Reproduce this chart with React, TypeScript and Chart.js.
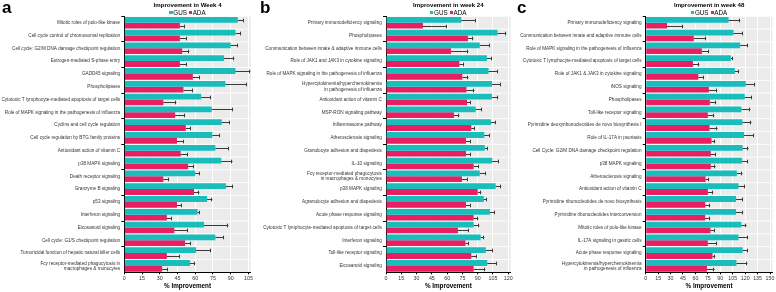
import React, { useEffect, useRef } from "react";
import { Chart, registerables } from "chart.js";
Chart.register(...registerables);

const FONT = "'Liberation Sans', Arial, Helvetica, sans-serif";
const TEAL = "#19BEBB";
const PINK = "#EA1E63";
const BAND = "#EBEBEB";

// ---------- Panel a: Week 4 ----------
const labelsA: (string | string[])[] = [
  "Mitotic roles of polo-like kinase",
  "Cell cycle control of chromosomal replication",
  "Cell cycle: G2/M DNA damage checkpoint regulation",
  "Estrogen-mediated S-phase entry",
  "GADD45 signaling",
  "Phospholipases",
  "Cytotoxic T lymphocyte-mediated apoptosis of target cells",
  "Role of MAPK signaling in the pathogenesis of influenza",
  "Cyclins and cell cycle regulation",
  "Cell cycle regulation by BTG family proteins",
  "Antioxidant action of vitamin C",
  "p38 MAPK signaling",
  "Death receptor signaling",
  "Granzyme B signaling",
  "p53 signaling",
  "Interferon signaling",
  "Eicosanoid signaling",
  "Cell cycle: G1/S checkpoint regulation",
  "Tumoricidal function of hepatic natural killer cells",
  ["Fcγ receptor-mediated phagocytosis in", "macrophages & monocytes"],
];
const gusA = [96, 94, 90, 84.4, 94, 85.5, 65, 74, 82.4, 74.5, 77, 82, 60, 86, 70, 62, 67.5, 77, 60.7, 55.6];
const gusErrA = [5, 4.5, 6, 8.6, 12.7, 18, 8.4, 18, 6.6, 6.5, 11.6, 9.5, 4, 6, 4.5, 2, 20.5, 7.4, 12.3, 4.4];
const adaA = [47, 47, 49, 47, 58, 50, 33, 43, 52, 44.6, 47.7, 54, 33, 59, 44.6, 36, 42.3, 51.4, 36, 32];
const adaErrA = [4, 6, 6, 6, 6, 8, 11, 8, 4, 6, 6.3, 5, 4.5, 4.5, 4, 4, 11.3, 5.1, 11, 5];
const xMaxA = 107;

// ---------- Panel b: Week 24 ----------
const labelsB: (string | string[])[] = [
  "Primary immunodeficiency signaling",
  "Phospholipases",
  "Communication between innate & adaptive immune cells",
  "Role of JAK1 and JAK3 in cytokine signaling",
  "Role of MAPK signaling in the pathogenesis of influenza",
  ["Hypercytokinemia/hyperchemokinemia", "in pathogenesis of influenza"],
  "Antioxidant action of vitamin C",
  "MSP-RON signaling pathway",
  "Inflammasome pathway",
  "Atherosclerosis signaling",
  "Granulocyte adhesion and diapedesis",
  "IL-10 signaling",
  ["Fcγ receptor-mediated phagocytosis", "in macrophages & monocytes"],
  "p38 MAPK signaling",
  "Agranulocyte adhesion and diapedesis",
  "Acute phase response signaling",
  "Cytotoxic T lymphocyte-mediated apoptosis of target cells",
  "Interferon signaling",
  "Toll-like receptor signaling",
  "Eicosanoid signaling",
];
const gusB = [74, 109.5, 92, 99, 100.7, 104, 104, 88, 103, 96.5, 97, 104.3, 92, 107.6, 96, 102, 86, 92.9, 98, 99.4];
const gusErrB = [14, 8.5, 10, 4.7, 9.3, 8.5, 6, 6, 5, 5.2, 3, 6.2, 5.8, 5.4, 3, 5, 5.6, 3.6, 6.6, 9.2];
const adaB = [36.3, 80.4, 63.8, 72, 75, 79, 79.5, 66.7, 83.7, 78.5, 78.5, 86, 74.6, 90, 78.5, 86, 70.6, 78, 83.7, 86];
const adaErrB = [23.2, 5.3, 17, 4.5, 5.8, 7.7, 3.5, 5.3, 3.6, 4.5, 4.5, 5, 5.8, 3.5, 4.5, 4.6, 10.4, 3, 5.3, 11.5];
const xMaxB = 122.4;

// ---------- Panel c: Week 48 ----------
const labelsC: (string | string[])[] = [
  "Primary immunodeficiency signaling",
  "Communication between innate and adaptive immune cells",
  "Role of MAPK signaling in the pathogenesis of influenza",
  "Cytotoxic T lymphocyte-mediated apoptosis of target cells",
  "Role of JAK1 & JAK3 in cytokine signaling",
  "iNOS signaling",
  "Phospholipases",
  "Toll-like receptor signaling",
  "Pyrimidine deoxyribonucleotides de novo biosynthesis I",
  "Role of IL-17A in psoriasis",
  "Cell Cycle: G2/M DNA damage checkpoint regulation",
  "p38 MAPK signaling",
  "Atherosclerosis signaling",
  "Antioxidant action of vitamin C",
  "Pyrimidine ribonucleotides de novo biosynthesis",
  "Pyrimidine ribonucleotides interconversion",
  "Mitotic roles of polo-like kinase",
  "IL-17A signaling in gastric cells",
  "Acute phase response signaling",
  ["Hypercytokinemia/hyperchemokinemia", "in pathogenesis of influenza"],
];
const gusC = [100, 106, 114, 102.7, 107.5, 120.7, 119.5, 115.5, 116.7, 118.7, 117, 116.3, 110, 112, 109, 109, 115.5, 112, 117, 109.5];
const gusErrC = [14, 11, 9.5, 2.8, 5.2, 11.3, 8.8, 10.8, 10.8, 12, 7, 7.2, 6.7, 8, 8.5, 8.5, 6, 11.5, 6.5, 13.2];
const adaC = [25.7, 58, 67.8, 57, 63.4, 76.2, 77.4, 75, 77, 79.4, 78.6, 78.6, 72.2, 75, 71.8, 71.8, 78.2, 75, 80.6, 74];
const adaErrC = [19.6, 15, 8.8, 7.6, 6.4, 10, 7.6, 7.6, 9.6, 4.4, 6, 5.6, 4.4, 6.4, 6, 6, 5.2, 11.2, 3.2, 9];
const xMaxC = 152.9;

const TICK_STEP = 15;
const SERIES = ["GUS", "ADA"];

type PanelProps = {
  letter: string;
  title: string;
  labels: (string | string[])[];
  gus: number[];
  gusErr: number[];
  ada: number[];
  adaErr: number[];
  xMax: number;
  canvasLeft: number;
  canvasWidth: number;
  plotLeft: number;
  plotRight: number;
  letterLeft: number;
};

const H = 292;
const PLOT_TOP = 16.3;
const PLOT_BOTTOM = 272.3;

function Panel(p: PanelProps) {
  const ref = useRef<HTMLCanvasElement>(null);
  useEffect(() => {
    if (!ref.current) return;
    const errs = [p.gusErr, p.adaErr];
    const bandPlugin = {
      id: "bandsAndErrors",
      beforeDraw(chart: any) {
        const { ctx, chartArea, scales } = chart;
        const y = scales.y;
        const step = Math.abs(y.getPixelForValue(1) - y.getPixelForValue(0));
        const h = step * 0.93;
        ctx.save();
        ctx.fillStyle = BAND;
        for (let i = 0; i < p.labels.length; i++) {
          const c = y.getPixelForValue(i);
          ctx.fillRect(chartArea.left, c - h / 2, chartArea.right - chartArea.left, h);
        }
        ctx.restore();
      },
      afterDatasetsDraw(chart: any) {
        const { ctx, scales } = chart;
        const x = scales.x;
        ctx.save();
        ctx.strokeStyle = "#3a3a3a";
        ctx.lineWidth = 1;
        chart.data.datasets.forEach((ds: any, di: number) => {
          const meta = chart.getDatasetMeta(di);
          meta.data.forEach((el: any, i: number) => {
            const v = ds.data[i];
            const xe = x.getPixelForValue(v + errs[di][i]);
            const yc = Math.round(el.y) + 0.5;
            ctx.beginPath();
            ctx.moveTo(el.x, yc);
            ctx.lineTo(xe, yc);
            ctx.moveTo(Math.round(xe) - 0.5, yc - 1.8);
            ctx.lineTo(Math.round(xe) - 0.5, yc + 1.8);
            ctx.stroke();
          });
        });
        ctx.restore();
      },
    };

    const chart = new Chart(ref.current, {
      type: "bar",
      data: {
        labels: p.labels,
        datasets: [
          { label: SERIES[0], data: p.gus, backgroundColor: TEAL, borderWidth: 0 },
          { label: SERIES[1], data: p.ada, backgroundColor: PINK, borderWidth: 0 },
        ],
      },
      options: {
        indexAxis: "y",
        responsive: false,
        animation: false,
        devicePixelRatio: 1,
        layout: {
          padding: {
            top: PLOT_TOP,
            bottom: 0,
            left: 0,
            right: p.canvasWidth - (p.plotRight - p.canvasLeft),
          },
        },
        datasets: { bar: { categoryPercentage: 0.91, barPercentage: 1.0 } },
        plugins: {
          legend: { display: false },
          title: { display: false },
          tooltip: { enabled: false },
        },
        scales: {
          x: {
            type: "linear",
            position: "bottom",
            min: 0,
            max: p.xMax,
            afterFit: (s: any) => {
              s.height = H - PLOT_BOTTOM;
            },
            ticks: {
              stepSize: TICK_STEP,
              includeBounds: false,
              autoSkip: false,
              maxRotation: 0,
              padding: 1.5,
              color: "#333",
              font: { family: FONT, size: 5.3 },
            },
            grid: {
              color: (c: any) => (c.tick && c.tick.value === 0 ? "rgba(0,0,0,0)" : "#FFFFFF"),
              lineWidth: 1,
              drawTicks: true,
              tickLength: 2,
              tickColor: "#000",
            },
            border: { color: "#000", width: 1 },
            title: {
              display: true,
              text: "% Improvement",
              color: "#000",
              font: { family: FONT, size: 6.3, weight: "bold" },
              padding: { top: 0, bottom: 2.3 },
            },
          },
          y: {
            type: "category",
            afterFit: (s: any) => {
              s.width = p.plotLeft - p.canvasLeft;
            },
            ticks: {
              autoSkip: false,
              padding: 1.2,
              color: "#333",
              font: { family: FONT, size: 4.65, lineHeight: 1.1 },
            },
            grid: {
              offset: true,
              drawOnChartArea: false,
              drawTicks: true,
              tickLength: 3,
              tickColor: (c: any) => (c.index % 2 === 0 ? "#000" : "rgba(0,0,0,0)"),
            },
            border: { color: "#000", width: 1 },
          },
        },
      } as any,
      plugins: [bandPlugin],
    });
    return () => chart.destroy();
  }, []);

  const plotW = p.plotRight - p.plotLeft;
  return (
    <>
      <canvas
        ref={ref}
        width={p.canvasWidth}
        height={H}
        style={{ position: "absolute", left: p.canvasLeft, top: 0, width: p.canvasWidth, height: H }}
      />
      <div
        style={{
          position: "absolute",
          left: p.letterLeft,
          top: -1.1,
          fontFamily: FONT,
          fontWeight: "bold",
          fontSize: 17,
          lineHeight: "17px",
          color: "#000",
        }}
      >
        {p.letter}
      </div>
      <div
        style={{
          position: "absolute",
          left: p.plotLeft,
          width: plotW,
          top: 1.6,
          textAlign: "center",
          fontFamily: FONT,
          fontWeight: "bold",
          fontSize: 6.1,
          lineHeight: "6.1px",
          whiteSpace: "nowrap",
          color: "#000",
        }}
      >
        {p.title}
      </div>
      <div
        style={{
          position: "absolute",
          left: p.plotLeft,
          width: plotW,
          top: 8.9,
          height: 7,
          display: "flex",
          justifyContent: "center",
          alignItems: "center",
          fontFamily: FONT,
          fontSize: 6.3,
          lineHeight: "7px",
          color: "#000",
          whiteSpace: "nowrap",
        }}
      >
        {SERIES.map((s, i) => (
          <span key={s} style={{ display: "inline-flex", alignItems: "center", marginLeft: i === 0 ? 0 : 2 }}>
            <span style={{ display: "inline-block", width: 3.2, height: 3.2, background: i === 0 ? TEAL : PINK, marginRight: 0.6 }} />
            <span>{s}</span>
          </span>
        ))}
      </div>
    </>
  );
}

export default function App() {
  return (
    <div
      style={{
        position: "absolute",
        left: 0,
        top: 0,
        width: 776,
        height: H,
        background: "#fff",
        overflow: "hidden",
      }}
    >
      <Panel
        letter="a"
        title="Improvement in Week 4"
        labels={labelsA}
        gus={gusA}
        gusErr={gusErrA}
        ada={adaA}
        adaErr={adaErrA}
        xMax={xMaxA}
        canvasLeft={0}
        canvasWidth={258}
        plotLeft={124.3}
        plotRight={250.8}
        letterLeft={2}
      />
      <Panel
        letter="b"
        title="Improvement in week 24"
        labels={labelsB}
        gus={gusB}
        gusErr={gusErrB}
        ada={adaB}
        adaErr={adaErrB}
        xMax={xMaxB}
        canvasLeft={258}
        canvasWidth={258}
        plotLeft={386}
        plotRight={510.7}
        letterLeft={260}
      />
      <Panel
        letter="c"
        title="Improvement in week 48"
        labels={labelsC}
        gus={gusC}
        gusErr={gusErrC}
        ada={adaC}
        adaErr={adaErrC}
        xMax={xMaxC}
        canvasLeft={516}
        canvasWidth={260}
        plotLeft={645.7}
        plotRight={772.7}
        letterLeft={517}
      />
    </div>
  );
}
